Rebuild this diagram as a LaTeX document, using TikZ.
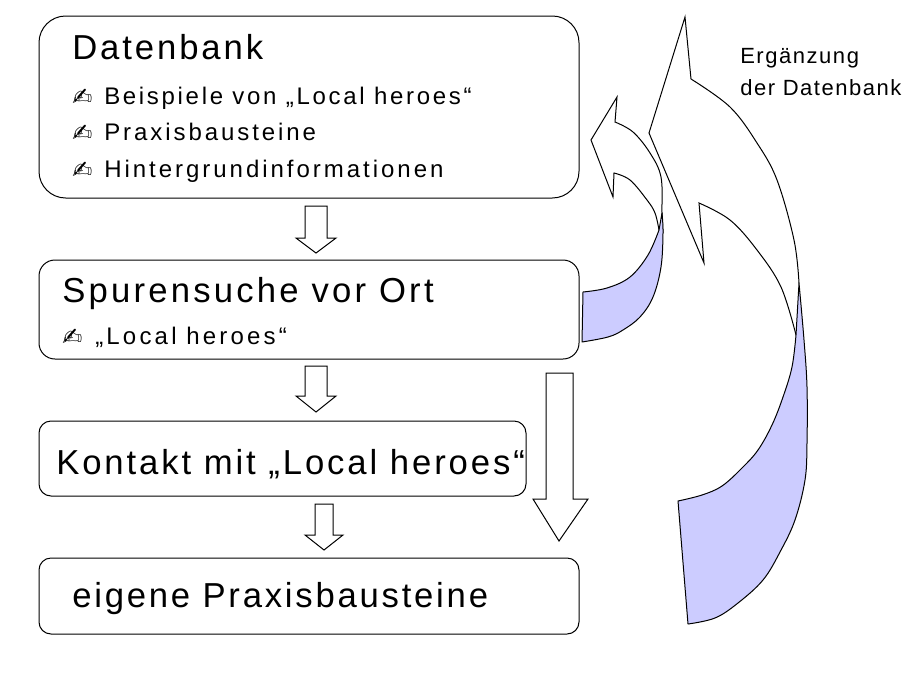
\documentclass[tikz,border=0pt]{standalone}
\usepackage{fontspec}
\setmainfont{Liberation Sans}
\newfontfamily\handfont{DejaVu Sans}
\tikzset{
  roundbox/.style={draw,line width=0.75pt,inner sep=0pt},
  headtext/.style={anchor=base west,inner sep=0pt,font=\fontsize{26}{30}\selectfont\addfontfeatures{LetterSpace=#1}},
  itemtext/.style={anchor=base west,inner sep=0pt,font=\fontsize{18}{22}\selectfont\addfontfeatures{LetterSpace=#1}},
  notetext/.style={anchor=base west,inner sep=0pt,font=\fontsize{16.5}{20}\selectfont\addfontfeatures{LetterSpace=7}},
  handmark/.style={anchor=base west,inner sep=0pt,font=\fontsize{18}{20}\handfont},
  blockarrow/.style={draw,line width=0.75pt,line join=miter,fill=white},
  backside/.style={draw,line width=0.75pt,line join=round,fill=shade}
}
\definecolor{shade}{RGB}{204,204,255}
\begin{document}
\begin{tikzpicture}[x=0.75pt,y=0.75pt,yscale=-1,xscale=1]
  \useasboundingbox (0,0) rectangle (917,689);
  % boxes
  \node[roundbox,rounded corners=20pt,minimum width=405pt,minimum height=136.5pt] (datenbank) at (309,107) {};
  \node[roundbox,rounded corners=12pt,minimum width=405pt,minimum height=74.25pt] (spurensuche) at (309,309.5) {};
  \node[roundbox,rounded corners=9pt,minimum width=365.25pt,minimum height=56.25pt] (kontakt) at (282.5,458.5) {};
  \node[roundbox,rounded corners=9pt,minimum width=405pt,minimum height=57pt] (praxis) at (309,596) {};
  % texts
  \node[headtext=8.4] (datenbanktitle) at (72,59) {Datenbank};
  \node[handmark] (hand1) at (72,105) {✍};
  \node[itemtext=11.2] (item1) at (104,104) {Beispiele von „Local heroes“};
  \node[handmark] (hand2) at (72,141) {✍};
  \node[itemtext=12.2] (item2) at (104,140) {Praxisbausteine};
  \node[handmark] (hand3) at (72,178) {✍};
  \node[itemtext=12.4] (item3) at (104,177) {Hintergrundinformationen};
  \node[headtext=9.3] (spurentitle) at (62,302) {Spurensuche vor Ort};
  \node[handmark] (hand4) at (62,345) {✍};
  \node[itemtext=13.3] (item4) at (95,344) {„Local heroes“};
  \node[headtext=8.4] (kontakttitle) at (56,474) {Kontakt mit „Local heroes“};
  \node[headtext=8] (praxistitle) at (72,607) {eigene Praxisbausteine};
  \node[notetext] (note1) at (740,63) {Ergänzung};
  \node[notetext] (note2) at (740,95) {der Datenbank};
  % down arrows
  \draw[blockarrow] (305,206) -- (327,206) -- (327,238) -- (336,238) -- (316,253) -- (296,238) -- (305,238) -- cycle;
  \draw[blockarrow] (305,366) -- (327,366) -- (327,396) -- (336,396) -- (316,412) -- (296,396) -- (305,396) -- cycle;
  \draw[blockarrow] (315,504) -- (333,504) -- (333,535) -- (343,535) -- (324,550) -- (305,535) -- (315,535) -- cycle;
  \draw[blockarrow] (546,373) -- (573,373) -- (573,499) -- (588,499) -- (559,541) -- (533,499) -- (546,499) -- cycle;
  % small curved arrow
  \draw[blockarrow] plot[smooth,tension=0.6] coordinates {(659,230) (655,213) (647,200) (630,180) (614,173)} -- (613,197) -- (591,140) -- (617,97) -- (615,122) -- plot[smooth,tension=0.6] coordinates {(615,122) (633,132) (650,153) (661,177) (662,213) (663,233)};
  \draw[backside] plot[smooth,tension=0.6] coordinates {(662,213) (663,233) (661,267) (653,297) (640,317) (623,330) (608,337) (582,342)} -- (583,292) -- plot[smooth,tension=0.6] coordinates {(583,292) (607,288) (630,277) (648,255) (659,230)} -- cycle;
  % big curved arrow
  \draw[blockarrow] plot[smooth,tension=0.6] coordinates {(796,335) (781,287) (757,250) (730,220) (699,203)} -- (704,263) -- (649,133) -- (685,17) -- (691,79) -- plot[smooth,tension=0.6] coordinates {(691,79) (730,107) (757,143) (777,180) (794,240) (799,283)};
  \draw[backside] plot[smooth,tension=0.6] coordinates {(799,283) (804,340) (807,387) (807,443) (805,480) (795,520) (780,552) (763,580) (738,603) (715,618) (688,624)} -- (678,501) -- plot[smooth,tension=0.6] coordinates {(678,501) (702,495) (722,486) (742,468) (758,450) (772,425) (783,397) (792,367) (796,335)} -- cycle;
\end{tikzpicture}
\end{document}
